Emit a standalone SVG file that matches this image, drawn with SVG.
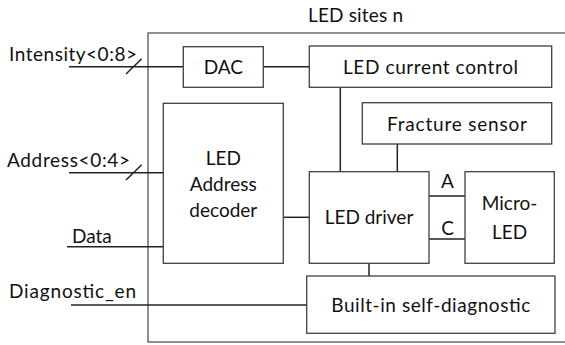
<svg xmlns="http://www.w3.org/2000/svg" width="565" height="345" viewBox="0 0 565 345">
<style>
.box{fill:#fff;stroke:#404040;stroke-width:1.3}
.ln{fill:none;stroke:#222;stroke-width:1.5}
text{font-family:Lato,"Open Sans",sans-serif;font-size:19px;fill:#111}
.c{text-anchor:middle}
</style>
<rect width="565" height="345" fill="#fff"/>
<g id="site">
<rect x="148" y="33" width="420" height="309" fill="none" stroke="#555" stroke-width="1.3"/>
<text x="308" y="22" textLength="95">LED sites n</text>
</g>
<g id="connectors">
<path class="ln" d="M69 66.7H183M126 74L141.7 58.7"/>
<path class="ln" d="M263 66.7H309"/>
<path class="ln" d="M69 172.7H163M126 180L141.7 164.7"/>
<path class="ln" d="M67 246.7H163"/>
<path class="ln" d="M71 305H306.7"/>
<path class="ln" d="M283.3 217.3H309.3"/>
<path class="ln" d="M340.3 87.3V171.7"/>
<path class="ln" d="M397.3 144V171.7"/>
<path class="ln" d="M429 196H465M429 239H465"/>
<path class="ln" d="M369 263.3V276"/>
<text x="447.5" y="188" class="c">A</text>
<text x="447.5" y="235" class="c">C</text>
</g>
<g id="inputs">
<text x="9" y="61" textLength="128">Intensity&lt;0:8&gt;</text>
<text x="7" y="167" textLength="123">Address&lt;0:4&gt;</text>
<text x="72" y="242.5">Data</text>
<text x="9" y="297.5" textLength="127">Diagnostic_en</text>
</g>
<g id="dac">
<rect class="box" x="183.3" y="46.7" width="80" height="40.6"/>
<text x="223.3" y="73.5" class="c">DAC</text>
</g>
<g id="current">
<rect class="box" x="309.3" y="46" width="242.4" height="41.3"/>
<text x="430.5" y="73.5" class="c" textLength="175">LED current control</text>
</g>
<g id="fracture">
<rect class="box" x="362.3" y="102.7" width="189.4" height="41.3"/>
<text x="457" y="130.5" class="c" textLength="140">Fracture sensor</text>
</g>
<g id="decoder">
<rect class="box" x="163.3" y="103.3" width="120" height="160"/>
<text x="223.3" y="164.5" class="c">LED</text>
<text x="223.3" y="191" class="c">Address</text>
<text x="223.3" y="217" class="c">decoder</text>
</g>
<g id="driver">
<rect class="box" x="309.3" y="171.7" width="119.7" height="91.6"/>
<text x="369" y="224" class="c">LED driver</text>
</g>
<g id="microled">
<rect class="box" x="465" y="171.7" width="89.3" height="91.6"/>
<text x="509.5" y="209.5" class="c">Micro-</text>
<text x="509.5" y="238.5" class="c">LED</text>
</g>
<g id="bist">
<rect class="box" x="306.7" y="276" width="248.3" height="57.3"/>
<text x="430.8" y="311.5" class="c" textLength="199">Built-in self-diagnostic</text>
</g>
</svg>
